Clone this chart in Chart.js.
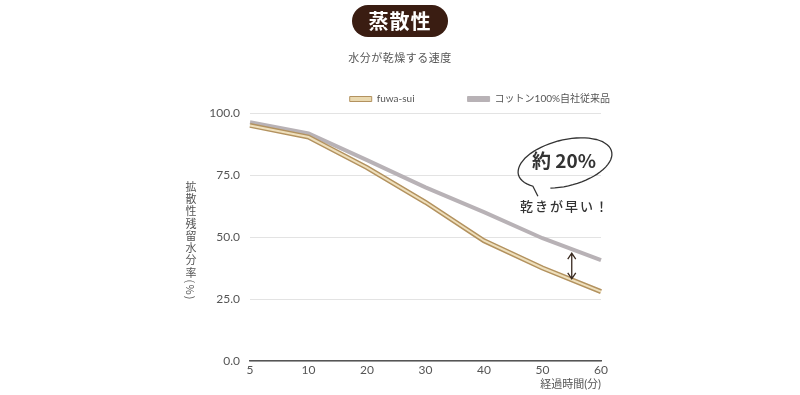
<!DOCTYPE html>
<html><head><meta charset="utf-8">
<script src="https://cdn.jsdelivr.net/npm/chart.js@4.4.1/dist/chart.umd.min.js"></script>
<style>
html,body{margin:0;padding:0;background:#fff;}
#wrap{position:relative;width:800px;height:395px;overflow:hidden;font-family:"Noto Sans CJK JP","Noto Sans",sans-serif;}
#c{position:absolute;left:0;top:0;}
.badge{position:absolute;left:352px;top:5px;width:96px;height:32px;border-radius:16px;background:#3a1d12;color:#fff;font-size:20px;font-weight:700;line-height:32px;text-align:center;letter-spacing:1px;}
.sub{position:absolute;left:0;width:800px;top:49px;text-align:center;font-size:11px;color:#555;letter-spacing:0.5px;}
.ytitle{position:absolute;left:184px;top:181px;writing-mode:vertical-rl;font-size:11px;color:#555;letter-spacing:1.3px;line-height:14px;}
.ann1{position:absolute;left:510px;top:146px;width:108px;text-align:center;font-size:19px;font-weight:700;color:#333;}
.ann2{position:absolute;left:510px;top:196px;width:110px;text-align:center;font-size:13px;font-weight:500;color:#333;letter-spacing:2px;}
svg{position:absolute;left:0;top:0;}
</style></head>
<body>
<div id="wrap">
<canvas id="c" width="800" height="395"></canvas>
<div class="badge">蒸散性</div>
<div class="sub">水分が乾燥する速度</div>
<div class="ytitle">拡散性残留水分率(%)</div>
<svg width="800" height="395"><path id="oval" fill="none" stroke="#333" stroke-width="1.3"/></svg>
<div class="ann1">約 20%</div>
<div class="ann2">乾きが早い！</div>
</div>
<script>
const categories = ['5','10','20','30','40','50','60'];
const fuwa = [95.0, 90.3, 78.0, 64.0, 48.5, 37.5, 28.0];
const cotton = [96.3, 91.8, 81.0, 70.0, 60.0, 49.5, 40.7];
const yTicks = [0, 25, 50, 75, 100];
const seriesNames = ['fuwa-sui', 'コットン100%自社従来品'];
const xTitle = '経過時間(分)';

// hand-drawn oval
(function(){
  const cx=565, cy=163, rx=48, ry=23, rot=-14*Math.PI/180;
  const pt=(t)=>{const x=rx*Math.cos(t), y=ry*Math.sin(t);
    return [cx+x*Math.cos(rot)-y*Math.sin(rot), cy+x*Math.sin(rot)+y*Math.cos(rot)];};
  const a0=140*Math.PI/180, a1=(140+335)*Math.PI/180;
  let d='';
  for(let i=0;i<=60;i++){const t=a0+(a1-a0)*i/60; const p=pt(t); d+=(i?'L':'M')+p[0].toFixed(1)+' '+p[1].toFixed(1)+' ';}
  const s=pt(a0); d='M'+(s[0]+5).toFixed(1)+' '+(s[1]+10).toFixed(1)+' '+d.replace(/^M/,'L');
  document.getElementById('oval').setAttribute('d',d);
})();

Chart.defaults.font.family = 'Lato, "Noto Sans CJK JP", sans-serif';
Chart.defaults.color = '#555';

const arrowPlugin = {
  id:'arrow',
  afterDatasetsDraw(chart){
    const xs=chart.scales.x, ys=chart.scales.y, ctx=chart.ctx;
    const x=(xs.getPixelForValue(5)+xs.getPixelForValue(6))/2;
    const yT=ys.getPixelForValue((cotton[5]+cotton[6])/2)+4;
    const yB=ys.getPixelForValue((fuwa[5]+fuwa[6])/2)-1;
    ctx.save();
    ctx.strokeStyle='#3a2a20'; ctx.lineWidth=1.3;
    ctx.beginPath(); ctx.moveTo(x,yT); ctx.lineTo(x,yB);
    ctx.moveTo(x-4,yT+6); ctx.lineTo(x,yT); ctx.lineTo(x+4,yT+6);
    ctx.moveTo(x-4,yB-6); ctx.lineTo(x,yB); ctx.lineTo(x+4,yB-6);
    ctx.stroke(); ctx.restore();
  }
};

new Chart(document.getElementById('c'), {
  type:'line',
  data:{
    labels:categories,
    datasets:[
      {label:seriesNames[0], data:fuwa, borderColor:'#efe0bd', borderWidth:2, pointRadius:0, tension:0, inLegend:false},
      {label:seriesNames[0], data:fuwa, borderColor:'#b3925f', borderWidth:5, pointRadius:0, tension:0, legendFill:'#ead9b0', legendStroke:'#b3925f'},
      {label:seriesNames[1], data:cotton, borderColor:'#b8b2b6', borderWidth:4, pointRadius:0, tension:0, legendFill:'#b8b2b6', legendStroke:'#b8b2b6'}
    ]
  },
  options:{
    responsive:false, animation:false,
    layout:{padding:{left:0, right:137, top:41, bottom:0}},
    plugins:{
      legend:{
        align:'end', maxHeight:72,
        labels:{
          boxWidth:22, boxHeight:5, padding:53, color:'#555', font:{size:10},
          generateLabels:(chart)=>chart.data.datasets.map((ds,i)=>({text:ds.label, fillStyle:ds.legendFill, strokeStyle:ds.legendStroke, lineWidth:1, datasetIndex:i, hidden:false, fontColor:'#555', inLegend:ds.inLegend})).filter(l=>l.inLegend!==false)
        }
      },
      tooltip:{enabled:false}
    },
    scales:{
      x:{
        type:'category', offset:false,
        grid:{display:false, drawTicks:false},
        border:{display:true, color:'#555', width:1.5},
        ticks:{color:'#555', font:{size:12}, padding:2, maxRotation:0, autoSkip:false},
        title:{display:true, text:xTitle, align:'end', color:'#555', font:{size:11}, padding:{top:0,bottom:4}},
        afterFit:(s)=>{s.height=34;}
      },
      y:{
        min:0, max:100,
        afterBuildTicks:(s)=>{s.ticks=yTicks.map(v=>({value:v}));},
        grid:{color:'#e3e3e3', drawTicks:false, lineWidth:1},
        border:{display:false},
        ticks:{color:'#555', font:{size:12}, padding:10, callback:(v)=>Number(v).toFixed(1)},
        afterFit:(s)=>{s.width=250;}
      },
      y2:{
        position:'right', display:true,
        grid:{display:false}, border:{display:false}, ticks:{display:false},
        afterFit:(s)=>{s.width=62;}
      }
    }
  },
  plugins:[arrowPlugin]
});
</script>
</body></html>
